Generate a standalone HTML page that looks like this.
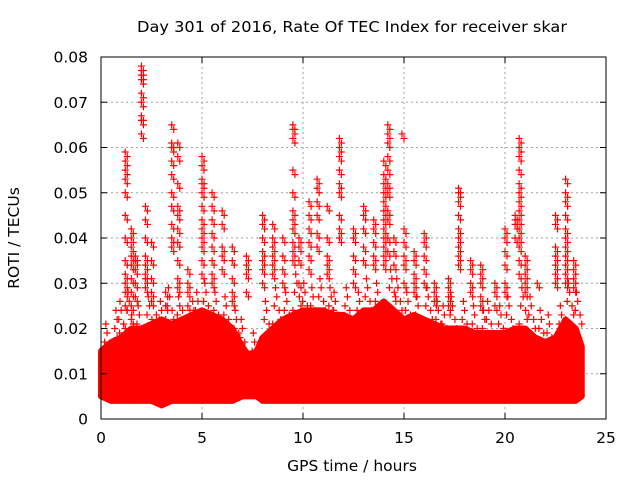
<!DOCTYPE html>
<html><head><meta charset="utf-8"><style>
body{margin:0;background:#fff;}
svg{display:block;font-family:"DejaVu Sans","Liberation Sans",sans-serif;}
</style></head><body>
<svg id="chart" width="640" height="480" viewBox="0 0 640 480">
<rect width="640" height="480" fill="#fff"/>
<text x="352" y="32" font-size="15.5" text-anchor="middle" textLength="430" lengthAdjust="spacingAndGlyphs">Day 301 of 2016, Rate Of TEC Index for receiver skar</text>
<text transform="translate(19,238) rotate(-90)" font-size="15.5" text-anchor="middle">ROTI / TECUs</text>
<text x="352" y="471" font-size="15.5" text-anchor="middle">GPS time / hours</text>
<g id="grid"></g>
<g id="marks"></g>
<g id="axes"></g>
</svg>
<script>
const xTicks=[0,5,10,15,20,25];
const yTicks=[0,0.01,0.02,0.03,0.04,0.05,0.06,0.07,0.08];
const yTickLabels=["0","0.01","0.02","0.03","0.04","0.05","0.06","0.07","0.08"];
const bandHours=[0,0.5,1,1.5,2,2.5,3,3.5,4,4.5,5,5.5,6,6.5,7,7.3,7.7,8,8.5,9,9.5,10,10.5,11,11.5,12,12.5,13,13.5,14,14.5,15,15.5,16,16.5,17,17.5,18,18.5,19,19.5,20,20.5,21,21.5,22,22.5,23,23.5,23.8];
const bandHigh=[0.015,0.017,0.018,0.02,0.02,0.021,0.022,0.021,0.022,0.023,0.024,0.023,0.022,0.02,0.016,0.014,0.015,0.018,0.02,0.022,0.023,0.024,0.024,0.024,0.023,0.023,0.022,0.024,0.024,0.026,0.024,0.022,0.023,0.022,0.021,0.02,0.02,0.02,0.019,0.019,0.019,0.019,0.02,0.02,0.018,0.017,0.018,0.022,0.02,0.016];
const bandLow=[0.005,0.004,0.004,0.004,0.004,0.004,0.003,0.004,0.004,0.004,0.004,0.004,0.004,0.004,0.005,0.005,0.005,0.004,0.004,0.004,0.004,0.004,0.004,0.004,0.004,0.004,0.004,0.004,0.004,0.004,0.004,0.004,0.004,0.004,0.004,0.004,0.004,0.004,0.004,0.004,0.004,0.004,0.004,0.004,0.004,0.004,0.004,0.004,0.004,0.005];
const spikeHours=[1.2,1.5,1.7,2.0,2.2,2.5,3.2,3.5,3.8,4.3,5.0,5.5,6.0,6.5,7.2,8.0,8.5,9.0,9.5,9.8,10.3,10.7,11.2,11.8,12.5,13.0,13.5,14.0,14.2,14.5,14.9,15.0,15.5,16.0,16.5,17.2,17.7,18.3,18.8,19.5,20.0,20.5,20.7,21.0,21.6,22.5,23.0,23.4];
const spikeValues=[
[0.059,0.057,0.055,0.053,0.05,0.045,0.04,0.035,0.032,0.03,0.028,0.025],
[0.042,0.04,0.038,0.036,0.034,0.031,0.028,0.025,0.022],
[0.036,0.035,0.033,0.03,0.027],
[0.078,0.077,0.076,0.075,0.072,0.07,0.067,0.066,0.063],
[0.047,0.044,0.04,0.036,0.034,0.032,0.031,0.029],
[0.039,0.035,0.031,0.028,0.026],
[0.028,0.025,0.022],
[0.065,0.061,0.06,0.057,0.054,0.05,0.047,0.043,0.04,0.038],
[0.061,0.058,0.052,0.047,0.045,0.042,0.039,0.035,0.031,0.029],
[0.033,0.03,0.028,0.025],
[0.058,0.056,0.053,0.052,0.05,0.047,0.044,0.042,0.04,0.038,0.035,0.032],
[0.05,0.047,0.044,0.041,0.038,0.035,0.032,0.03],
[0.046,0.043,0.038,0.036,0.033],
[0.038,0.035,0.031,0.028,0.026],
[0.036,0.034,0.032,0.028],
[0.045,0.043,0.04,0.037,0.035,0.033,0.03],
[0.043,0.04,0.038,0.036,0.034,0.032],
[0.04,0.036,0.033,0.03],
[0.065,0.064,0.062,0.055,0.05,0.046,0.044,0.042,0.039,0.037,0.035],
[0.04,0.038,0.035,0.03],
[0.048,0.045,0.042,0.039,0.036,0.033],
[0.053,0.051,0.048,0.045,0.041,0.038],
[0.047,0.04,0.036,0.034,0.032],
[0.062,0.06,0.058,0.055,0.052,0.05,0.045,0.042,0.04],
[0.042,0.04,0.036,0.033,0.03],
[0.047,0.045,0.042,0.038,0.035],
[0.044,0.042,0.039,0.036,0.034],
[0.057,0.054,0.052,0.05,0.048,0.046,0.044,0.042,0.04,0.038,0.036,0.034],
[0.065,0.063,0.061,0.058,0.055,0.052,0.05,0.046,0.044,0.04,0.037],
[0.04,0.037,0.034],
[0.063],
[0.042,0.039,0.036,0.034,0.03],
[0.037,0.035,0.032,0.03,0.028],
[0.041,0.039,0.036,0.033,0.03],
[0.03,0.028,0.026],
[0.031,0.029,0.027,0.025],
[0.051,0.05,0.048,0.045,0.042,0.04,0.038,0.036,0.034],
[0.035,0.033,0.03,0.028],
[0.034,0.032,0.03,0.027,0.025],
[0.03,0.028,0.025],
[0.042,0.04,0.037,0.034,0.03,0.028],
[0.045,0.044,0.043,0.04],
[0.062,0.06,0.058,0.055,0.052,0.05,0.048,0.046,0.044,0.042,0.04,0.038,0.035,0.032],
[0.036,0.034,0.032,0.03,0.028],
[0.03],
[0.045,0.043,0.038,0.036,0.034,0.032,0.03],
[0.053,0.05,0.048,0.045,0.042,0.04,0.038,0.036,0.034,0.032,0.03],
[0.035,0.033,0.031,0.029]];
const midHours=[0.3,0.8,1.0,1.4,1.9,2.4,2.8,3.0,3.4,3.9,4.1,4.6,4.8,5.2,5.7,6.2,6.7,7.0,7.6,8.2,8.7,9.2,9.7,10.1,10.5,10.9,11.4,11.6,12.2,12.8,13.2,13.7,14.4,14.7,15.2,15.7,16.2,16.7,17.0,17.4,18.0,18.5,19.0,19.2,19.8,20.2,20.9,21.3,21.8,22.2,22.8,23.2,23.6];
const midValues=[0.019,0.022,0.024,0.026,0.023,0.025,0.021,0.024,0.027,0.025,0.022,0.024,0.026,0.028,0.026,0.025,0.022,0.02,0.017,0.024,0.027,0.026,0.03,0.028,0.027,0.029,0.027,0.026,0.027,0.026,0.029,0.028,0.031,0.029,0.026,0.025,0.027,0.024,0.023,0.025,0.024,0.023,0.022,0.024,0.023,0.025,0.027,0.025,0.022,0.021,0.023,0.028,0.026];

const L=101,R=606,T=57,B=419;
const xs=v=>L+(v/25)*(R-L);
const ys=v=>B-(v/0.08)*(B-T);
const NS="http://www.w3.org/2000/svg";
function mk(tag,attrs,parent){const e=document.createElementNS(NS,tag);for(const k in attrs)e.setAttribute(k,attrs[k]);parent.appendChild(e);return e;}
const grid=document.getElementById('grid'),marks=document.getElementById('marks'),axes=document.getElementById('axes');
xTicks.forEach(t=>{
  if(t>0&&t<25){const g=mk('line',{x1:xs(t),x2:xs(t),y1:T,y2:B,stroke:'#a0a0a0','stroke-dasharray':'2,3'},grid);
  
  }
  const tk=mk('text',{x:xs(t),y:443,'font-size':15.5,'text-anchor':'middle'},axes);tk.textContent=t;
  
  
  mk('line',{x1:xs(t),x2:xs(t),y1:B,y2:B-6,stroke:'#000'},axes);
  mk('line',{x1:xs(t),x2:xs(t),y1:T,y2:T+6,stroke:'#000'},axes);
});
yTicks.forEach((t,i)=>{
  if(t>0&&t<0.08){const g=mk('line',{x1:L,x2:R,y1:ys(t),y2:ys(t),stroke:'#a0a0a0','stroke-dasharray':'2,3'},grid);
  
  }
  const tk=mk('text',{x:88,y:ys(t)+5.5,'font-size':15.5,'text-anchor':'end'},axes);tk.textContent=yTickLabels[i];
  
  
  mk('line',{x1:L,x2:L+6,y1:ys(t),y2:ys(t),stroke:'#000'},axes);
  mk('line',{x1:R,x2:R-6,y1:ys(t),y2:ys(t),stroke:'#000'},axes);
});
const fr=mk('rect',{x:L,y:T,width:R-L,height:B-T,fill:'none',stroke:'#000'},axes);


let pts=bandHours.map((h,i)=>xs(h)+','+ys(bandHigh[i]));
for(let i=bandHours.length-1;i>=0;i--)pts.push(xs(bandHours[i])+','+ys(bandLow[i]));
const band=mk('polygon',{points:pts.join(' '),fill:'#ff0000',stroke:'#ff0000','stroke-width':6,'stroke-linejoin':'round'},marks);


function plus(h,v){
  const x=xs(h),y=ys(v);
  const p=mk('path',{d:`M${x-3.5},${y}H${x+3.5}M${x},${y-3.5}V${y+3.5}`,stroke:'#ff0000','stroke-width':1.2},marks);
  
  
}
midHours.forEach((h,i)=>{
  const v=midValues[i];
  [[0,0],[0.12,-0.003],[-0.12,-0.002],[0.2,-0.005],[-0.2,-0.006],[0.06,-0.008],[-0.06,0.002]].forEach(o=>plus(h+o[0],v+o[1]));
});
spikeHours.forEach((h,i)=>spikeValues[i].forEach(v=>{plus(h,v);plus(h+0.1,v-0.001);}));
</script>
</body></html>
